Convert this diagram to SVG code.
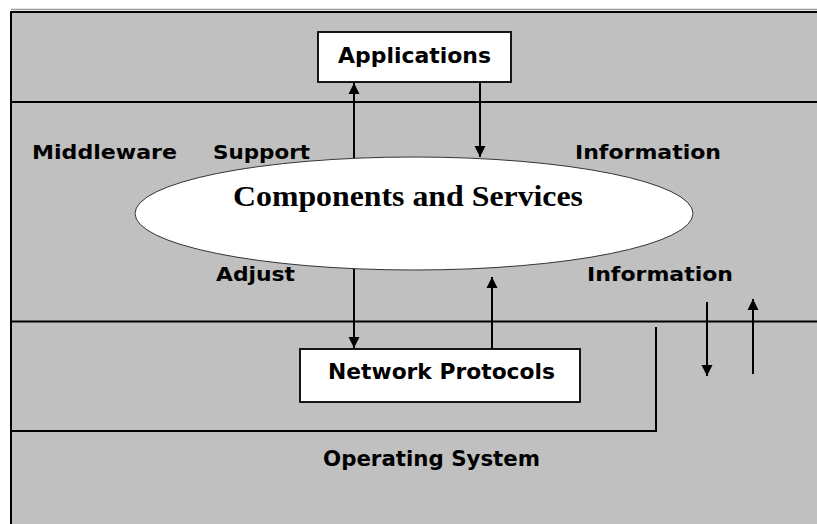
<svg xmlns="http://www.w3.org/2000/svg" width="817" height="524" viewBox="0 0 817 524">
  <style>
    .band { stroke: #000; stroke-width: 2; fill: none; }
    .box { fill: #fff; stroke: #000; stroke-width: 1.8; }
    .flow { stroke: #000; stroke-width: 2; fill: none; }
    .lbl { font-family: "DejaVu Sans", Verdana, sans-serif; font-weight: bold; fill: #000; }
    .small { font-size: 19px; }
    .big { font-size: 22px; }
    .serif { font-family: "Liberation Serif", "Times New Roman", serif; font-weight: bold; font-size: 30px; fill: #000; }
  </style>
  <defs>
    <marker id="head" markerUnits="userSpaceOnUse" markerWidth="12" markerHeight="12" viewBox="0 0 12 12" refX="11" refY="6" orient="auto">
      <path d="M0,0.5 L11,6 L0,11.5 Z" fill="#000"/>
    </marker>
  </defs>

  <rect x="0" y="0" width="817" height="524" fill="#fff"/>
  <!-- layered panel -->
  <g id="panel">
    <rect x="11" y="12" width="806" height="512" fill="#c0c0c0"/>
    <line x1="11" y1="9.5" x2="817" y2="9.5" stroke="#9a9a9a" stroke-width="1.5"/>
    <line class="band" x1="11" y1="12" x2="817" y2="12"/>
    <line class="band" x1="11" y1="11" x2="11" y2="524"/>
    <line class="band" x1="11" y1="102" x2="817" y2="102"/>
    <line class="band" x1="11" y1="321.5" x2="817" y2="321.5"/>
    <polyline class="band" points="656,327 656,431 11,431"/>
  </g>

  <g id="applications">
    <rect class="box" x="318" y="32" width="193" height="50"/>
    <text class="lbl big" x="338" y="63" textLength="153" lengthAdjust="spacingAndGlyphs">Applications</text>
  </g>

  <g id="components">
    <ellipse cx="414" cy="213.5" rx="279" ry="56.5" fill="#fff" stroke="#333" stroke-width="1"/>
    <text class="serif" x="233" y="206" textLength="350" lengthAdjust="spacingAndGlyphs">Components and Services</text>
  </g>

  <g id="network-protocols">
    <rect class="box" x="300" y="349" width="280" height="53"/>
    <text class="lbl big" x="328" y="379" textLength="227" lengthAdjust="spacingAndGlyphs">Network Protocols</text>
  </g>

  <g id="labels">
    <text class="lbl small" x="32" y="159" textLength="145" lengthAdjust="spacingAndGlyphs">Middleware</text>
    <text class="lbl small" x="213" y="159" textLength="97" lengthAdjust="spacingAndGlyphs">Support</text>
    <text class="lbl small" x="575" y="159" textLength="146" lengthAdjust="spacingAndGlyphs">Information</text>
    <text class="lbl small" x="216" y="281" textLength="79" lengthAdjust="spacingAndGlyphs">Adjust</text>
    <text class="lbl small" x="587" y="281" textLength="146" lengthAdjust="spacingAndGlyphs">Information</text>
    <text class="lbl big" x="323" y="466" textLength="217" lengthAdjust="spacingAndGlyphs">Operating System</text>
  </g>

  <g id="connectors">
    <line class="flow" x1="354" y1="158" x2="354" y2="83" marker-end="url(#head)"/>
    <line class="flow" x1="480" y1="82" x2="480" y2="157" marker-end="url(#head)"/>
    <line class="flow" x1="354" y1="269" x2="354" y2="348" marker-end="url(#head)"/>
    <line class="flow" x1="492" y1="349" x2="492" y2="277" marker-end="url(#head)"/>
    <line class="flow" x1="707" y1="302" x2="707" y2="376" marker-end="url(#head)"/>
    <line class="flow" x1="753" y1="374" x2="753" y2="299" marker-end="url(#head)"/>
  </g>
</svg>
